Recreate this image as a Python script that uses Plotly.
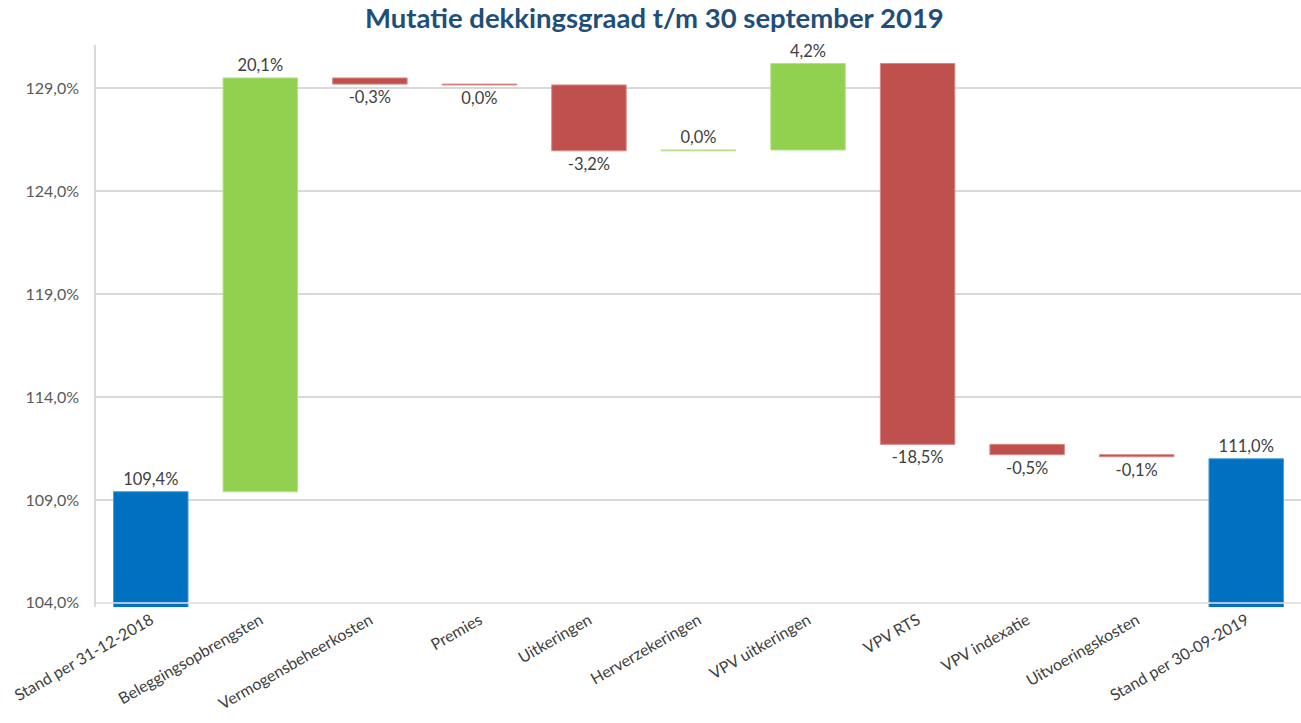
import plotly.graph_objects as go

categories = ["Stand per 31-12-2018", "Beleggingsopbrengsten", "Vermogensbeheerkosten",
              "Premies", "Uitkeringen", "Herverzekeringen", "VPV uitkeringen", "VPV RTS",
              "VPV indexatie", "Uitvoeringskosten", "Stand per 30-09-2019"]
measures = ["absolute", "relative", "relative", "relative", "relative", "relative",
            "relative", "relative", "relative", "relative", "absolute"]
values = [109.4, 20.1, -0.3, -0.04, -3.2, 0.04, 4.2, -18.5, -0.5, -0.1, 111.0]
y_ticks = [104, 109, 114, 119, 124, 129]

def fmt(v):
    s = f"{v:.1f}".replace(".", ",")
    if s == "-0,0":
        s = "0,0"
    return s + "%"

labels = [fmt(v) for v in values]
y_tick_text = [fmt(v) for v in y_ticks]

fig = go.Figure(go.Waterfall(
    x=categories,
    y=values,
    measure=measures,
    text=labels,
    textposition="outside",
    textfont=dict(family="Lato, Open Sans, sans-serif", size=16.5, color="#404040"),
    cliponaxis=False,
    width=[0.68] * len(categories),
    connector=dict(visible=False),
    increasing=dict(marker=dict(color="#92D050", line=dict(color="#B5E08A", width=1))),
    decreasing=dict(marker=dict(color="#C0504D", line=dict(color="#D98886", width=1))),
    totals=dict(marker=dict(color="#0070C0", line=dict(color="#4A9BD6", width=1))),
    hoverinfo="skip",
))

fig.add_shape(type="line", xref="paper", yref="y", x0=0, x1=1, y0=104, y1=104,
              line=dict(color="#E6E6E6", width=1.5), layer="above")

fig.update_layout(
    width=1301, height=723,
    paper_bgcolor="white", plot_bgcolor="white",
    margin=dict(l=96, r=0, t=45, b=116, autoexpand=False),
    showlegend=False,
    title=dict(text="<b>Mutatie dekkingsgraad t/m 30 september 2019</b>",
               x=0.503, xanchor="center", xref="container", y=0.988, yanchor="top",
               automargin=False,
               font=dict(family="Lato, Open Sans, sans-serif", size=27.5, color="#1F4E79")),
    font=dict(family="Lato, Open Sans, sans-serif", color="#595959"),
)
fig.update_xaxes(tickangle=-30, tickfont=dict(size=16, color="#404040"),
                 showgrid=False, showline=False, ticks="", automargin=False)
fig.update_yaxes(range=[103.8, 131.1], tickvals=y_ticks, ticktext=y_tick_text,
                 tickfont=dict(size=16, color="#595959"),
                 showgrid=True, gridcolor="#D9D9D9", gridwidth=1.5,
                 showline=True, linecolor="#D9D9D9", linewidth=1.5,
                 zeroline=False, ticks="", ticklabelstandoff=12, automargin=False)

fig.write_html("out.html", config={"displayModeBar": False},
               post_script="document.body.style.margin='0px';")
